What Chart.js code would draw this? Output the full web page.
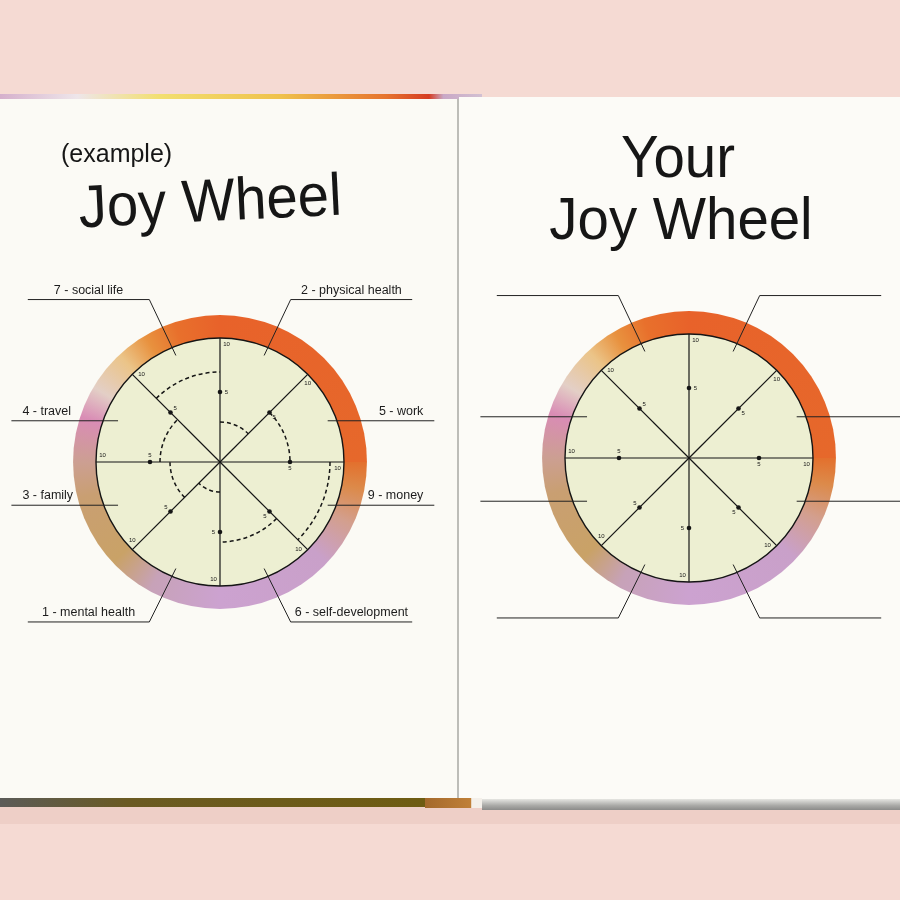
<!DOCTYPE html>
<html>
<head>
<meta charset="utf-8">
<title>Joy Wheel</title>
<script src="https://cdn.jsdelivr.net/npm/chart.js@4.4.1/dist/chart.umd.min.js"></script>
<style>
  html, body { margin: 0; padding: 0; }
  body {
    width: 900px; height: 900px; position: relative; overflow: hidden;
    background: #f5dad3;
    font-family: "Liberation Sans", Arial, sans-serif; color: #161616;
  }
  .band { position: absolute; left: 0; top: 806px; width: 900px; height: 18px; background: #eecfc7; }
  .page { position: absolute; }
  #leftPage { left: 0; top: 99px; width: 458px; height: 700px; background: #fbfaf5; }
  #rightPage { left: 459px; top: 97px; width: 441px; height: 704px; background: #fcfbf7; }
  .spine { position: absolute; left: 457px; top: 99px; width: 2px; height: 700px; background: #bdbdb8; }
  .edgeTop {
    position: absolute; left: 0; top: 94px; width: 482px; height: 5px;
    background: linear-gradient(90deg, #d5b0cc 0%, #eee6ea 16%, #f2df70 33%, #efc24c 58%, #e6742e 80%, #d53c22 89%, #c9a8c6 92%, #d2c0d2 100%);
  }
  .edgeBotL {
    position: absolute; left: 0; top: 798px; width: 425px; height: 9px;
    background: linear-gradient(90deg, #5b5b58 0%, #6a5a22 30%, #6e5c12 100%);
  }
  .edgeBotM { position: absolute; left: 425px; top: 798px; width: 57px; height: 10px; background: linear-gradient(90deg, #a4692c, #c08038 80%, #f4f0ea 82%); }
  .edgeBotR {
    position: absolute; left: 482px; top: 799px; width: 418px; height: 11px;
    background: linear-gradient(180deg, #e6e6e2 0%, #a9a9a6 60%, #8c8c8a 100%);
  }
  canvas { position: absolute; }
  #leftChart { left: 0; top: 97px; }
  #rightChart { left: 460px; top: 97px; }
  .title { position: absolute; white-space: nowrap; line-height: 1; font-weight: 400; }
  #exTag { left: 61px; top: 141px; font-size: 25px; }
  #exTitle { left: 210px; top: 171px; font-size: 60px; transform: translateX(-50%) rotate(-2.8deg) scaleX(0.94); }
  #yourTop { left: 678px; top: 127px; font-size: 60px; transform: translateX(-50%) scaleX(0.94); }
  #yourTitle { left: 681px; top: 189px; font-size: 60px; transform: translateX(-50%) scaleX(0.94); }
</style>
</head>
<body>
<div class="band"></div>
<div class="edgeTop"></div>
<div class="page" id="leftPage"></div>
<div class="page" id="rightPage"></div>
<div class="spine"></div>
<div class="edgeBotL"></div>
<div class="edgeBotM"></div>
<div class="edgeBotR"></div>

<canvas id="leftChart" width="458" height="703"></canvas>
<canvas id="rightChart" width="440" height="703"></canvas>

<div class="title" id="exTag">(example)</div>
<div class="title" id="exTitle">Joy Wheel</div>
<div class="title" id="yourTop">Your</div>
<div class="title" id="yourTitle">Joy Wheel</div>

<script>
// sectors, clockwise from 12 o'clock
var categories = ['physical health', 'work', 'money', 'self-development', 'mental health', 'family', 'travel', 'social life'];
var exampleScores = [2, 5, 9, 6, 1, 3, 4, 7];
var yourScores = [null, null, null, null, null, null, null, null];
var tickValues = [5, 10];

// ring colours around the wheel (0 = 3 o'clock, clockwise)
var ringStops = [
  [0.00, '#e3702d'], [0.03, '#dc8a4a'], [0.07, '#d39f8e'], [0.12, '#c9a0c9'],
  [0.25, '#cca2d0'], [0.33, '#c7a2b8'], [0.38, '#c9a267'], [0.46, '#c99f72'],
  [0.50, '#cc9f92'], [0.55, '#d98cb5'], [0.585, '#e3cfc6'], [0.63, '#ebc488'],
  [0.665, '#e8913e'], [0.70, '#e8702c'], [0.75, '#e8622a'], [1.00, '#e6682b']
];

Chart.defaults.font.family = '"Liberation Sans", Arial, sans-serif';

var wheelDeco = {
  id: 'wheelDeco',
  beforeDraw: function (chart) {
    var s = chart.scales.r, ctx = chart.ctx;
    var R = s.drawingArea, cx = s.xCenter, cy = s.yCenter;
    ctx.save();
    var g = ctx.createConicGradient(0, cx, cy);
    ringStops.forEach(function (st) { g.addColorStop(st[0], st[1]); });
    ctx.beginPath();
    ctx.arc(cx, cy, R * 1.185, 0, Math.PI * 2);
    ctx.fillStyle = g;
    ctx.fill();
    ctx.beginPath();
    ctx.arc(cx, cy, R, 0, Math.PI * 2);
    ctx.fillStyle = '#edefd2';
    ctx.fill();
    ctx.restore();
  },
  // dashed score arcs, taken from the polar-area elements
  afterDatasetsDraw: function (chart) {
    var ctx = chart.ctx;
    var meta = chart.getDatasetMeta(0);
    ctx.save();
    ctx.setLineDash([4, 3]);
    ctx.lineWidth = 1.5;
    ctx.strokeStyle = '#151515';
    meta.data.forEach(function (el) {
      var p = el.getProps(['x', 'y', 'startAngle', 'endAngle', 'outerRadius']);
      if (!isFinite(p.outerRadius) || p.outerRadius <= 0) return;
      ctx.beginPath();
      ctx.arc(p.x, p.y, p.outerRadius, p.startAngle, p.endAngle);
      ctx.stroke();
    });
    ctx.restore();
  },
  afterDraw: function (chart, args, opts) {
    var s = chart.scales.r, ctx = chart.ctx;
    var R = s.drawingArea, cx = s.xCenter, cy = s.yCenter;
    var labels = chart.data.labels;
    var scores = chart.data.datasets[0].data;
    var n = labels.length;
    ctx.save();

    // rim
    ctx.beginPath();
    ctx.arc(cx, cy, R, 0, Math.PI * 2);
    ctx.lineWidth = 1.4;
    ctx.strokeStyle = '#151515';
    ctx.stroke();

    // 5 / 10 marks on every spoke
    ctx.fillStyle = '#151515';
    ctx.font = '6px "Liberation Sans", Arial, sans-serif';
    ctx.textAlign = 'center';
    ctx.textBaseline = 'middle';
    for (var i = 0; i < n; i++) {
      var a = s.getIndexAngle(i) - Math.PI / 2;
      var px = -Math.sin(a), py = Math.cos(a);
      tickValues.forEach(function (v) {
        var d = s.getDistanceFromCenterForValue(v);
        var isEnd = v >= 10;
        if (isEnd) d -= 2.5;
        var p = s.getPointPosition(i, d);
        if (!isEnd) {
          ctx.beginPath();
          ctx.arc(p.x, p.y, 2.3, 0, Math.PI * 2);
          ctx.fill();
        }
        ctx.fillText(String(v), p.x + px * 6.5, p.y + py * 6.5);
      });
    }

    // leader lines and names
    ctx.lineWidth = 1;
    ctx.strokeStyle = '#222';
    ctx.fillStyle = '#1c1c1c';
    ctx.font = '12.5px "Liberation Sans", Arial, sans-serif';
    ctx.textBaseline = 'alphabetic';
    for (var j = 0; j < n; j++) {
      var m = s.getIndexAngle(j) + Math.PI / n - Math.PI / 2;
      var c = Math.cos(m), sn = Math.sin(m);
      var sx = c < 0 ? -1 : 1, sy = sn < 0 ? -1 : 1;
      var name = opts.showNames && scores[j] != null ? scores[j] + ' - ' + labels[j] : '';
      ctx.beginPath();
      if (Math.abs(c) > Math.abs(sn)) {
        var k = sx < 0 ? 0.89 : 0.94;
        var ex = cx + c * R * k, ey = cy + sn * R * 0.89 + 1;
        var ox = ex + sx * R * 0.86;
        ctx.moveTo(ex, ey);
        ctx.lineTo(ox, ey);
        ctx.stroke();
        ctx.textAlign = sx < 0 ? 'left' : 'right';
        ctx.fillText(name, ox - sx * 11, ey - 6);
      } else {
        var ex2 = cx + c * R * 0.93, ey2 = cy + sn * R * 0.93;
        var kx = cx + sx * R * 0.57, ky = cy + sy * R * (sy < 0 ? 1.31 : 1.29);
        var ox2 = kx + sx * R * 0.98;
        ctx.moveTo(ex2, ey2);
        ctx.lineTo(kx, ky);
        ctx.lineTo(ox2, ky);
        ctx.stroke();
        ctx.textAlign = 'center';
        ctx.fillText(name, (kx + ox2) / 2, ky - 5.5);
      }
    }
    ctx.restore();
  }
};

function makeWheel(id, scores, showNames, pad) {
  return new Chart(document.getElementById(id), {
    type: 'polarArea',
    data: {
      labels: categories,
      datasets: [{
        data: scores,
        backgroundColor: 'rgba(0,0,0,0)',
        borderWidth: 0
      }]
    },
    options: {
      responsive: false,
      animation: false,
      events: [],
      layout: { padding: pad },
      plugins: {
        legend: { display: false },
        tooltip: { enabled: false },
        wheelDeco: { showNames: showNames }
      },
      scales: {
        r: {
          min: -2,
          max: 10.4,
          startAngle: 0,
          grid: { display: false },
          angleLines: { display: true, color: '#151515', lineWidth: 1.2 },
          ticks: { display: false },
          pointLabels: { display: false }
        }
      }
    },
    plugins: [wheelDeco]
  });
}

makeWheel('leftChart', exampleScores, true, { left: 96, top: 241, right: 114, bottom: 214 });
makeWheel('rightChart', yourScores, false, { left: 105, top: 237, right: 87, bottom: 218 });
</script>
</body>
</html>
